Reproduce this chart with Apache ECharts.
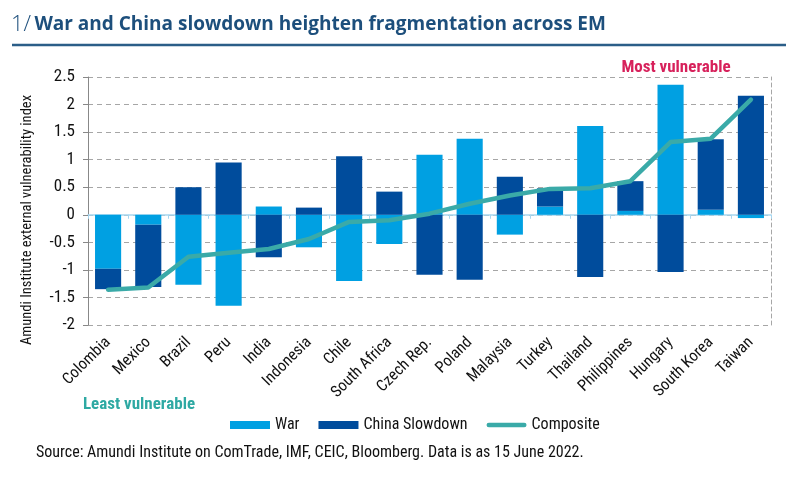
<!DOCTYPE html>
<html><head><meta charset="utf-8">
<script src="https://cdn.jsdelivr.net/npm/echarts@6/dist/echarts.min.js"></script>
<style>html,body{margin:0;padding:0;background:#fff}#c{width:800px;height:480px}</style>
</head><body><div id="c"></div>
<script>
const categories = ['Colombia','Mexico','Brazil','Peru','India','Indonesia','Chile','South Africa','Czech Rep.','Poland','Malaysia','Turkey','Thailand','Philippines','Hungary','South Korea','Taiwan'];
const war       = [-0.98,-0.18,-1.27,-1.65, 0.15,-0.59,-1.20,-0.53, 1.09, 1.38,-0.36, 0.15, 1.61, 0.07, 2.36, 0.09,-0.06];
const china     = [-0.37,-1.13, 0.50, 0.95,-0.77, 0.13, 1.06, 0.42,-1.09,-1.18, 0.69, 0.33,-1.13, 0.54,-1.04, 1.28, 2.16];
const composite = [-1.36,-1.32,-0.76,-0.69,-0.62,-0.44,-0.13,-0.10, 0.02, 0.20, 0.35, 0.47, 0.48, 0.61, 1.32, 1.38, 2.09];
const yMin = -2, yMax = 2.5, yStep = 0.5;

const NARROW = '"Roboto Condensed","Liberation Sans",sans-serif';
const chart = echarts.init(document.getElementById('c'), null, {renderer:'canvas'});
chart.setOption({
  animation:false,
  backgroundColor:'#fff',
  grid:{left:88, right:29, top:77, bottom:155},
  legend:{
    left:230, top:417, padding:0, itemWidth:40, itemHeight:8, itemGap:19,
    textStyle:{fontFamily:NARROW, fontSize:16, color:'#111'},
    data:[{name:'War', icon:'rect'},{name:'China Slowdown', icon:'rect'},
          {name:'Composite', icon:'path://M2.5,0 L40.5,0 A2.5,2.5 0 0 1 40.5,5 L2.5,5 A2.5,2.5 0 0 1 2.5,0 Z'}]
  },
  xAxis:[{
    type:'category', data:categories, position:'bottom',
    axisLine:{show:false, onZero:false}, axisTick:{show:false},
    axisLabel:{interval:0, rotate:45, margin:15, fontFamily:NARROW, fontSize:16, color:'#111'}
  },{
    type:'category', data:categories, position:'bottom',
    axisLine:{show:true, onZero:true, lineStyle:{color:'#a8d7f0', width:1.5}},
    axisTick:{show:true, interval:0, length:4, lineStyle:{color:'#a8d7f0'}},
    axisLabel:{show:false}
  }],
  yAxis:[{
    type:'value', min:yMin, max:yMax, interval:yStep,
    axisLine:{show:true, lineStyle:{color:'#888'}},
    axisTick:{show:true, length:5, lineStyle:{color:'#888'}},
    axisLabel:{margin:13, fontFamily:NARROW, fontSize:17, color:'#111'},
    splitLine:{show:true, lineStyle:{color:'#a6a6a6', type:[5,4]}}
  },{
    type:'value', min:yMin, max:yMax, interval:yStep, position:'right',
    axisLine:{show:true, lineStyle:{color:'#a6a6a6', type:[4,3]}},
    axisTick:{show:false}, axisLabel:{show:false}, splitLine:{show:false}
  }],
  series:[
    {name:'War', type:'bar', stack:'v', data:war, barWidth:'65%',
     itemStyle:{color:'#00a0e2'}},
    {name:'China Slowdown', type:'bar', stack:'v', data:china, barWidth:'65%',
     itemStyle:{color:'#004c9c'}},
    {name:'Composite', type:'line', data:composite, symbol:'none', z:5,
     lineStyle:{color:'#3aaaa8', width:4.5, cap:'round', join:'round'}, itemStyle:{color:'#3aaaa8'}}
  ],
  graphic:[
    {type:'text', left:11, top:14, style:{
      text:'{a|1/} {b|War and China slowdown heighten fragmentation across EM}',
      rich:{a:{fontFamily:'Open Sans', fontWeight:300, fontSize:22, fill:'#1d4f7c'},
            b:{fontFamily:'Open Sans', fontWeight:'bold', fontSize:19, fill:'#1d4f7c'}}}},
    {type:'line', shape:{x1:12, y1:45, x2:786, y2:45}, style:{stroke:'#2b5e88', lineWidth:2.5}},
    {type:'text', x:27, y:220, rotation:Math.PI/2, style:{
      text:'Amundi Institute external vulnerability index', fontFamily:NARROW, fontSize:14.5,
      fill:'#111', textAlign:'center', textVerticalAlign:'middle'}},
    {type:'text', x:676, y:68, style:{text:'Most vulnerable', fontFamily:'Roboto Condensed', fontWeight:'bold',
      fontSize:17, fill:'#d7215b', textAlign:'center', textVerticalAlign:'middle'}},
    {type:'text', x:139, y:405, style:{text:'Least vulnerable', fontFamily:'Roboto Condensed', fontWeight:'bold',
      fontSize:17, fill:'#2ea9a3', textAlign:'center', textVerticalAlign:'middle'}},
    {type:'text', x:36, y:453, style:{text:'Source: Amundi Institute on ComTrade, IMF, CEIC, Bloomberg. Data is as 15 June 2022.',
      fontFamily:NARROW, fontSize:16, fill:'#111', textVerticalAlign:'middle'}}
  ]
});
</script></body></html>
